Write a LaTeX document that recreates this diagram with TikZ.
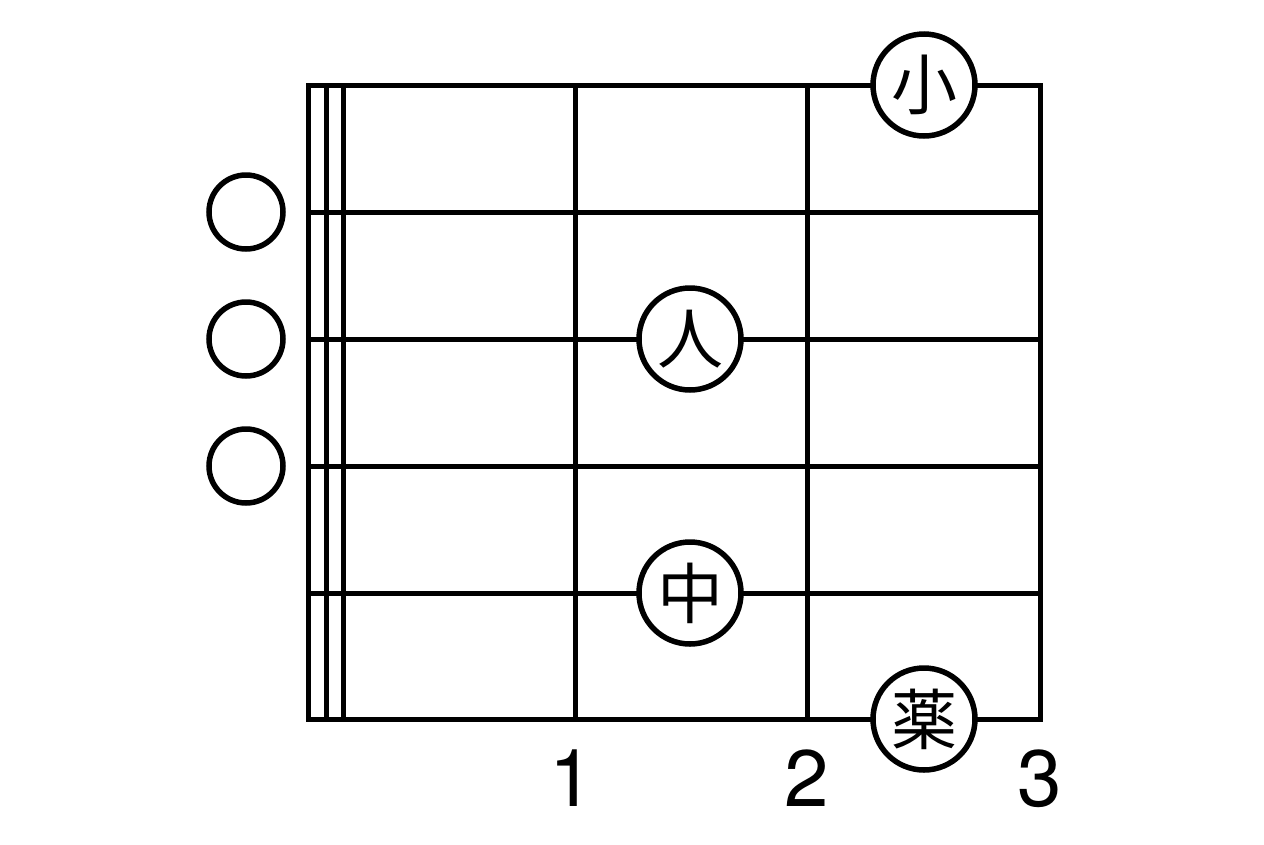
\documentclass[tikz,border=0pt]{standalone}
\usepackage{fontspec}
\setmainfont{TeX Gyre Heros}
\newfontfamily\cjk{Noto Sans CJK JP}

\tikzstyle{finger} = [draw, circle, fill=white, line width=5.5pt, minimum size=102pt, inner sep=0pt, font=\cjk\fontsize{66}{66}\selectfont]
\tikzstyle{openstr} = [draw, circle, line width=5.5pt, minimum size=74pt, inner sep=0pt]
\tikzstyle{fretnum} = [draw=none, fill=none, anchor=base, font=\fontsize{80}{80}\selectfont]

\begin{document}
\begin{tikzpicture}[x=1pt, y=-1pt, line width=5pt]
    \useasboundingbox (0,0) rectangle (1264,844);
    % strings
    \foreach \y in {212,339,466,593}
        \draw (308,\y) -- (1040,\y);
    % nut and frets
    \foreach \x in {326,343,575,807}
        \draw (\x,85) -- (\x,719);
    \draw (308,85) rectangle (1040,719);
    % open strings
    \node[openstr] (o2) at (246,212) {};
    \node[openstr] (o3) at (246,339) {};
    \node[openstr] (o4) at (246,466) {};
    % fingers
    \node[finger] (ko) at (924,85) {小};
    \node[finger] (hito) at (690,339) {人};
    \node[finger] (naka) at (690,593) {中};
    \node[finger] (kusuri) at (924,719) {薬};
    % fret numbers
    \node[fretnum] (f1) at (572,806) {1};
    \node[fretnum] (f2) at (807,806) {2};
    \node[fretnum] (f3) at (1040,806) {3};
\end{tikzpicture}
\end{document}
